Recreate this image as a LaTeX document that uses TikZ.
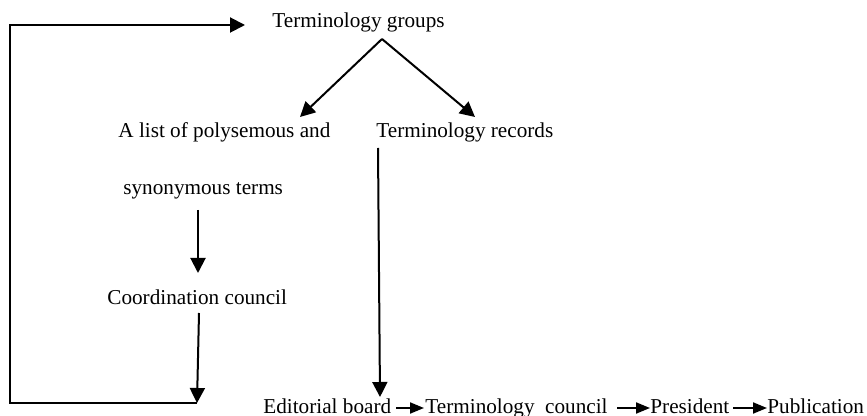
\documentclass[tikz,border=0pt]{standalone}
\usepackage{fontspec}
\setmainfont{Liberation Serif}
\usetikzlibrary{arrows.meta}
\begin{document}
\begin{tikzpicture}[x=0.5pt,y=-0.5pt,
  lbl/.style={anchor=base west,inner sep=0pt,font=\fontsize{10.6}{12}\selectfont},
  link/.style={line width=1pt},
  bigarrow/.style={link,-{Triangle[length=7.5pt,width=7.5pt]}},
  smallarrow/.style={link,-{Triangle[length=7pt,width=5.5pt]}}]
\useasboundingbox (0,0) rectangle (867,416);

% labels
\node[lbl] (tg)  at (272,28)  {Terminology groups};
\node[lbl] (lst) at (118,138) {A list of polysemous and};
\node[lbl] (tr)  at (376,138) {Terminology records};
\node[lbl] (syn) at (123,195) {synonymous terms};
\node[lbl] (cc)  at (107,305) {Coordination council};
\node[lbl] (eb)  at (263,414) {Editorial board};
\node[lbl] (tc)  at (425,414) {Terminology\ \ council};
\node[lbl] (pr)  at (650,414) {President};
\node[lbl] (pub) at (767,414) {Publication};

% connector end points
\coordinate (tgApex) at (382,39);
\coordinate (lstTop) at (300,117);
\coordinate (trTop)  at (475,117);
\coordinate (synBot) at (198,210);
\coordinate (ccTop)  at (198,273);
\coordinate (ccBot)  at (199,313);
\coordinate (loopEnd) at (197,403);
\coordinate (tgLeft) at (245,25);
\coordinate (trBot)  at (378,148);
\coordinate (ebTop)  at (380,397);
\coordinate (ebRight) at (396,408);
\coordinate (tcLeft)  at (424,408);
\coordinate (tcRight) at (617,408);
\coordinate (prLeft)  at (650,408);
\coordinate (prRight) at (733,408);
\coordinate (pubLeft) at (767,408);

% branching from the terminology groups
\draw[bigarrow] (tgApex) -- (lstTop);
\draw[bigarrow] (tgApex) -- (trTop);

% left column
\draw[bigarrow] (synBot) -- (ccTop);
\draw[bigarrow] (ccBot) -- (loopEnd);
\draw[bigarrow] (loopEnd) -- (10,403) -- (10,25) -- (tgLeft);

% right column
\draw[bigarrow] (trBot) -- (ebTop);

% bottom chain
\draw[smallarrow] (ebRight) -- (tcLeft);
\draw[smallarrow] (tcRight) -- (prLeft);
\draw[smallarrow] (prRight) -- (pubLeft);
\end{tikzpicture}
\end{document}
